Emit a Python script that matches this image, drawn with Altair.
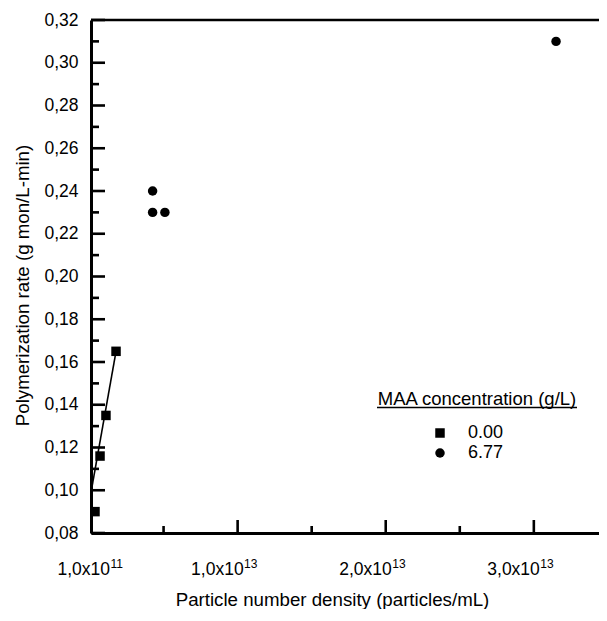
import altair as alt
import pandas as pd

# ---- data ----
series_names = ["0.00", "6.77"]
sq_x = [0.37e12, 0.71e12, 1.11e12, 1.79e12]
sq_y = [0.090, 0.116, 0.135, 0.165]
ci_x = [4.26e12, 4.26e12, 5.09e12, 3.15e13]
ci_y = [0.240, 0.230, 0.230, 0.310]
fit_x = [1e11, 1.79e12]
fit_y = [0.099, 0.165]

x_label_values = [1e11, 1e13, 2e13, 3e13]
x_label_base = ["1,0x10", "1,0x10", "2,0x10", "3,0x10"]
x_label_exp = ["11", "13", "13", "13"]
x_major = [1e13, 2e13, 3e13]
x_minor = [0.5e13, 1.5e13, 2.5e13]
y_major = [0.08, 0.10, 0.12, 0.14, 0.16, 0.18, 0.20, 0.22, 0.24, 0.26, 0.28, 0.30, 0.32]
y_minor = [0.09, 0.11, 0.13, 0.15, 0.17, 0.19, 0.21, 0.23, 0.25, 0.27, 0.29, 0.31]

legend_title = "MAA concentration (g/L)"
x_title = "Particle number density (particles/mL)"
y_title = "Polymerization rate (g mon/L-min)"

W, H = 508, 513
FONT = "Liberation Sans"
LW = 2.6

pts = pd.DataFrame({
    "x": sq_x + ci_x,
    "y": sq_y + ci_y,
    "s": [series_names[0]] * len(sq_x) + [series_names[1]] * len(ci_x),
})
fit = pd.DataFrame({"x": fit_x, "y": fit_y})
xlab = pd.DataFrame({"v": x_label_values, "b": x_label_base, "e": x_label_exp})
ymaj_df = pd.DataFrame({"yv": y_major})
ymin_df = pd.DataFrame({"yv": y_minor})
xmaj_df = pd.DataFrame({"xv": x_major})
xmin_df = pd.DataFrame({"xv": x_minor})

xscale = alt.Scale(domain=[1e11, 3.44e13], nice=False, zero=False)
yscale = alt.Scale(domain=[0.08, 0.32], nice=False, zero=False)

x_enc = alt.X("x:Q", scale=xscale, axis=alt.Axis(
    values=x_label_values, labels=False, title=x_title,
    titleX=241, titleY=72, titleBaseline="alphabetic", titleAnchor="middle",
    domainWidth=3, domainColor="black",
))
y_enc = alt.Y("y:Q", scale=yscale, axis=alt.Axis(
    values=y_major, labelExpr="replace(format(datum.value, '.2f'), '.', ',')",
    title=y_title, titleX=-69, titleY=265, titleBaseline="middle", titleAnchor="middle",
    labelPadding=13, labelFlush=False, labelOverlap=False,
    domainWidth=3, domainColor="black",
))

points = alt.Chart(pts).mark_point(filled=True, opacity=1, size=90, color="black").encode(
    x=x_enc, y=y_enc,
    shape=alt.Shape("s:N", scale=alt.Scale(domain=series_names, range=["square", "circle"]),
                    legend=alt.Legend(
                        title=None, orient="none", legendX=340, legendY=404, padding=0,
                        symbolSize=90, symbolFillColor="black", symbolStrokeColor="black",
                        labelFontSize=18, labelFont=FONT, labelColor="black",
                        labelOffset=19, rowPadding=2,
                    )),
)

line = alt.Chart(fit).mark_line(color="black", strokeWidth=1.6).encode(
    x=alt.X("x:Q", scale=xscale), y=alt.Y("y:Q", scale=yscale)
)

ymaj = alt.Chart(ymaj_df).mark_rule(color="black", strokeWidth=LW).encode(
    y=alt.Y("yv:Q", scale=yscale), x=alt.value(0), x2=alt.value(14))
ymin = alt.Chart(ymin_df).mark_rule(color="black", strokeWidth=LW).encode(
    y=alt.Y("yv:Q", scale=yscale), x=alt.value(0), x2=alt.value(8))
xmaj = alt.Chart(xmaj_df).mark_rule(color="black", strokeWidth=LW).encode(
    x=alt.X("xv:Q", scale=xscale), y=alt.value(H), y2=alt.value(H - 13))
xmin = alt.Chart(xmin_df).mark_rule(color="black", strokeWidth=LW).encode(
    x=alt.X("xv:Q", scale=xscale), y=alt.value(H), y2=alt.value(H - 7))
top = alt.Chart(pd.DataFrame({"t": [legend_title]})).mark_rule(color="black", strokeWidth=LW).encode(
    x=alt.value(0), x2=alt.value(W), y=alt.value(0))

first = alt.datum.v < 5e12
xl_base0 = alt.Chart(xlab).transform_filter(first).mark_text(
    font=FONT, fontSize=17.5, align="right", baseline="alphabetic", dx=19, color="black"
).encode(x=alt.X("v:Q", scale=xscale), y=alt.value(H + 42), text="b:N")
xl_exp0 = alt.Chart(xlab).transform_filter(first).mark_text(
    font=FONT, fontSize=12, align="left", baseline="alphabetic", dx=19.5, color="black"
).encode(x=alt.X("v:Q", scale=xscale), y=alt.value(H + 35), text="e:N")
xl_base = alt.Chart(xlab).transform_filter(~first).mark_text(
    font=FONT, fontSize=17.5, align="right", baseline="alphabetic", dx=6, color="black"
).encode(x=alt.X("v:Q", scale=xscale), y=alt.value(H + 42), text="b:N")
xl_exp = alt.Chart(xlab).transform_filter(~first).mark_text(
    font=FONT, fontSize=12, align="left", baseline="alphabetic", dx=6.5, color="black"
).encode(x=alt.X("v:Q", scale=xscale), y=alt.value(H + 35), text="e:N")

ltitle = alt.Chart(pd.DataFrame({"t": [legend_title]})).mark_text(
    font=FONT, fontSize=18.5, align="center", baseline="alphabetic", color="black"
).encode(text="t:N", x=alt.value(386), y=alt.value(385))
lunder = alt.Chart(pd.DataFrame({"t": [legend_title]})).mark_rule(color="black", strokeWidth=1.3).encode(
    x=alt.value(286), x2=alt.value(486), y=alt.value(387.5))

chart = alt.layer(line, points, ymaj, ymin, xmaj, xmin, top,
                  xl_base0, xl_exp0, xl_base, xl_exp, ltitle, lunder).properties(
    width=W, height=H,
    autosize=alt.AutoSizeParams(type="none"),
    padding={"left": 83, "top": 12, "right": 0, "bottom": 76},
).configure_view(stroke=None).configure_axis(
    tickSize=0, grid=False,
    labelFont=FONT, labelFontSize=17.5, labelColor="black",
    titleFont=FONT, titleFontSize=18.7, titleColor="black", titleFontWeight="normal",
)

chart.save("out.html", embed_options={"renderer": "svg", "actions": False})
